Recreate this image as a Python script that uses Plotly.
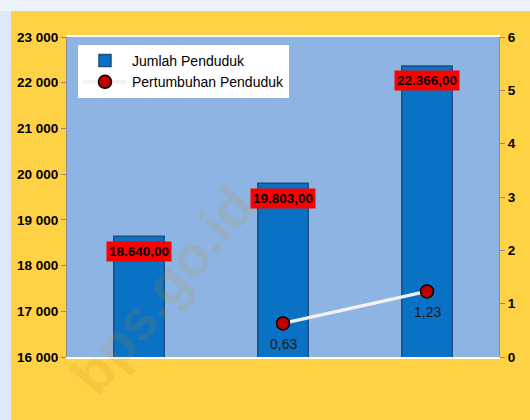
import plotly.graph_objects as go

categories = ["2000", "2010", "2020"]
penduduk = [18640, 19803, 22366]
pertumbuhan = [None, 0.63, 1.23]
left_ticks = [16000, 17000, 18000, 19000, 20000, 21000, 22000, 23000]
right_ticks = [0, 1, 2, 3, 4, 5, 6]


def fmt_id(v):
    s = f"{v:,.2f}"
    return s.replace(",", "X").replace(".", ",").replace("X", ".")


def fmt_dec(v):
    return f"{v:.2f}".replace(".", ",")


FONT = "Liberation Sans, Arial, sans-serif"

fig = go.Figure()
fig.add_trace(go.Bar(
    x=categories, y=penduduk, name="Jumlah Penduduk",
    width=0.35,
    marker=dict(color="#0a72c4", line=dict(color="#1d4f7c", width=1.5)),
    yaxis="y",
))
fig.add_trace(go.Scatter(
    x=categories, y=pertumbuhan, name="Pertumbuhan Penduduk",
    mode="lines+markers",
    line=dict(color="#f2f2f2", width=3.5),
    marker=dict(color="#c00000", size=13, line=dict(color="#000000", width=1.5)),
    yaxis="y2",
))

annotations = []
for i, v in enumerate(penduduk):
    annotations.append(dict(
        x=i, y=v, xref="x", yref="y", text=fmt_id(v), showarrow=False,
        yshift=-15, bgcolor="#ff0000", borderpad=2,
        font=dict(family=FONT, size=13.5, color="#000000", weight="bold"),
    ))
for i, v in enumerate(pertumbuhan):
    if v is None:
        continue
    annotations.append(dict(
        x=i, y=v, xref="x", yref="y2", text=fmt_dec(v), showarrow=False,
        yshift=-21,
        font=dict(family=FONT, size=14, color="#1a1a1a"),
    ))

W, H = 530, 420
L, R, T, B = 67, 31, 37, 63
pw, ph = W - L - R, H - T - B


def px_x(p):
    return (p - L) / pw


def px_y(p):
    return (H - B - p) / ph


annotations.append(dict(
    x=px_x(162), y=px_y(290), xref="paper", yref="paper", text="bps.go.id",
    xanchor="center", yanchor="middle",
    showarrow=False, textangle=-50,
    font=dict(family=FONT, size=56, color="rgba(190,140,30,0.15)", weight="bold"),
))

shapes = [
    dict(type="rect", xref="paper", yref="paper", layer="above",
         x0=px_x(0), x1=px_x(W), y0=px_y(11), y1=px_y(0),
         fillcolor="#eef3fb", line=dict(width=0)),
    dict(type="rect", xref="paper", yref="paper", layer="above",
         x0=px_x(0), x1=px_x(11), y0=px_y(H), y1=px_y(11),
         fillcolor="#dfe8f8", line=dict(width=0)),
]

fig.update_layout(
    width=W, height=H,
    margin=dict(l=L, r=R, t=T, b=B, autoexpand=False),
    paper_bgcolor="#ffd246",
    plot_bgcolor="#8eb4e3",
    separators=", ",
    showlegend=True,
    legend=dict(
        x=px_x(78), y=px_y(45), xanchor="left", yanchor="top",
        bgcolor="#ffffff", borderwidth=0,
        font=dict(family=FONT, size=14, color="#000000"),
        itemwidth=44, tracegroupgap=0,
        entrywidth=228, entrywidthmode="pixels",
    ),
    xaxis=dict(
        type="category", range=[-0.5, len(categories) - 0.5],
        showticklabels=False, ticks="", showgrid=False, zeroline=False,
        showline=True, linecolor="#ffffff", linewidth=1.5, mirror=True,
    ),
    yaxis=dict(
        range=[16000, 23000], tickvals=left_ticks, tickformat=",d",
        showgrid=False, zeroline=False,
        ticks="outside", ticklen=5, tickcolor="#8c8c8c",
        showline=True, linecolor="#8c8c8c", linewidth=1,
        tickfont=dict(family=FONT, size=13.5, color="#000000", weight="bold"),
    ),
    yaxis2=dict(
        range=[0, 6], tickvals=right_ticks, overlaying="y", side="right",
        showgrid=False, zeroline=False,
        ticks="outside", ticklen=5, tickcolor="#8c8c8c",
        showline=True, linecolor="#8c8c8c", linewidth=1,
        tickfont=dict(family=FONT, size=13.5, color="#000000", weight="bold"),
    ),
    annotations=annotations,
    shapes=shapes,
)

fig.write_html("out.html", config={"displayModeBar": False},
               post_script="document.body.style.margin='0';")
